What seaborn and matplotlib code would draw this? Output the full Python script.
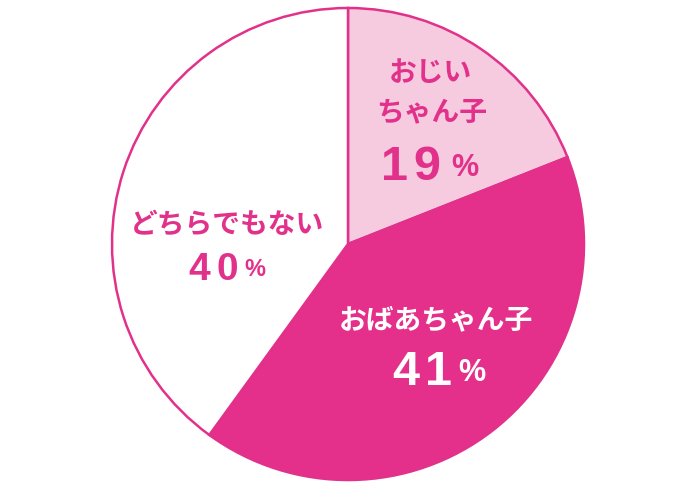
import matplotlib
matplotlib.use('Agg')
import matplotlib.pyplot as plt
import seaborn as sns

sns.set_style('white')
plt.rcParams['font.family'] = ['Noto Sans CJK JP', 'DejaVu Sans']

# data
labels   = ['おじいちゃん子', 'おばあちゃん子', 'どちらでもない']
label_lines = [['おじい', 'ちゃん子'], ['おばあちゃん子'], ['どちらでもない']]
values   = [19, 41, 40]
colors   = ['#F6CBDF', '#E4308A', '#FFFFFF']
PINK     = '#E2318A'
txt_cols = [PINK, 'white', PINK]
NUM_FONT = 'Liberation Sans'

W, H = 700, 490
CX, CY, R = 348, 244, 236


def px(x, y):
    # pixel position -> pie data coordinates
    return (x - CX) / R, (CY - y) / R


fig = plt.figure(figsize=(7, 4.9), dpi=100)
ax = fig.add_axes([(CX - R) / W, (H - CY - R) / H, 2 * R / W, 2 * R / H])

ax.pie(values, colors=colors, startangle=90, counterclock=False,
       radius=1, wedgeprops=dict(edgecolor=PINK, linewidth=1.8))
ax.set_xlim(-1, 1)
ax.set_ylim(-1, 1)
ax.set_aspect('equal')
ax.axis('off')

# label layout (pixel positions)
line_pos  = [[(430, 73), (432, 112)], [(436, 320)], [(227, 225)]]
digit_x0  = [395, 406, 199]      # centre of first digit
pitch     = [32, 32, 28]         # distance between digit centres
baseline  = [180, 385, 280]
pct_x     = [451, 458, 244]
num_size  = [35, 35, 28]
pct_size  = [22, 22, 17]

for i, (lines, lp, v, c) in enumerate(zip(label_lines, line_pos, values, txt_cols)):
    for s, (x, y) in zip(lines, lp):
        ax.text(*px(x, y), s, ha='center', va='center', fontsize=20,
                fontweight='bold', color=c)
    for k, d in enumerate(str(v)):
        ax.text(*px(digit_x0[i] + k * pitch[i], baseline[i]), d,
                ha='center', va='baseline', fontsize=num_size[i],
                fontweight='bold', family=NUM_FONT, color=c)
    ax.text(*px(pct_x[i], baseline[i] - 4), '%', ha='left', va='baseline',
            fontsize=pct_size[i], fontweight='bold', family=NUM_FONT, color=c)

fig.savefig('out.png', dpi=100, facecolor='white')
